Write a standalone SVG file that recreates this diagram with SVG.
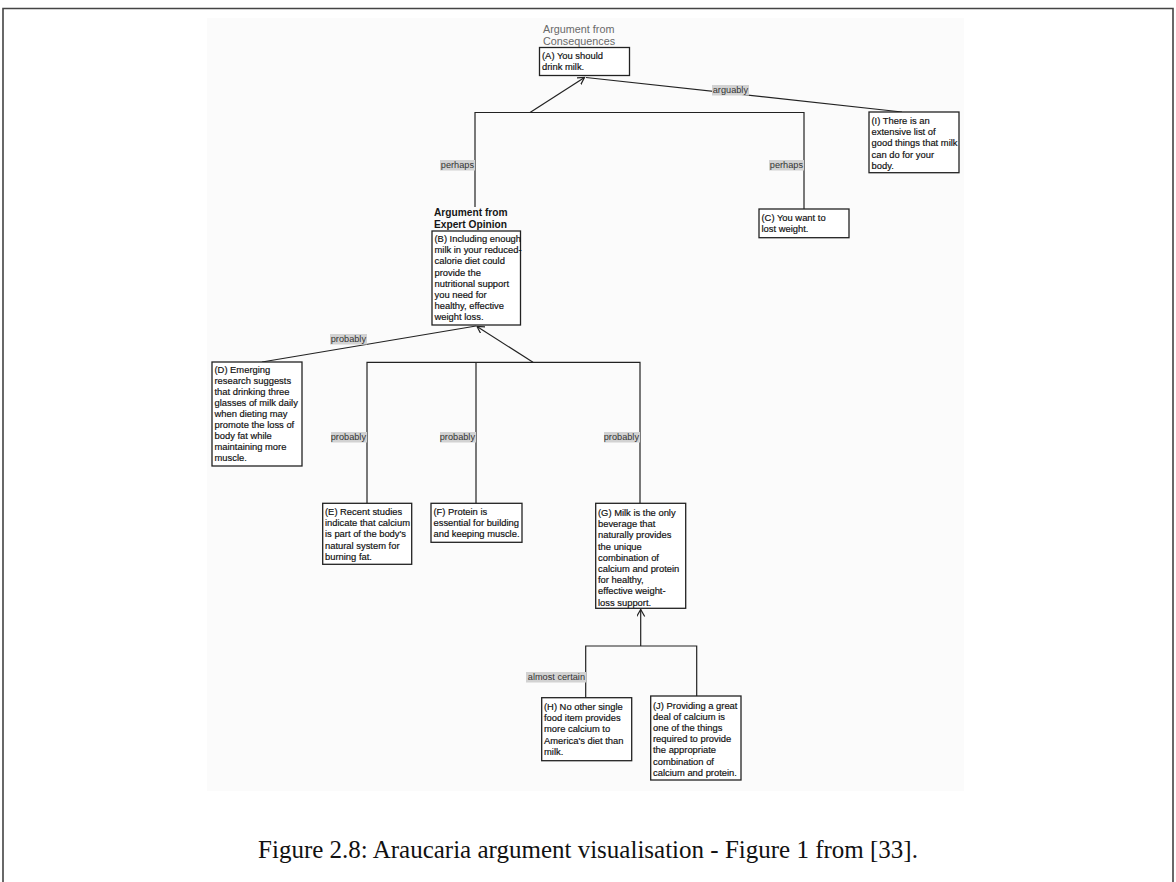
<svg xmlns="http://www.w3.org/2000/svg" width="1176" height="882" viewBox="0 0 1176 882">
  <style>
    .box { fill: #ffffff; stroke: #222; stroke-width: 1.3; }
    .t { font-family: "Liberation Sans", Arial, sans-serif; font-size: 9.4px; fill: #111; stroke: #111; stroke-width: 0.18; }
    .scheme { font-family: "Liberation Sans", Arial, sans-serif; font-size: 10.8px; fill: #6a6a6a; }
    .schemeB { font-family: "Liberation Sans", Arial, sans-serif; font-size: 10.2px; font-weight: bold; fill: #151515; }
    .lbl { font-family: "Liberation Sans", Arial, sans-serif; font-size: 9.2px; fill: #333; text-anchor: end; }
    .hl { fill: #d2d2d2; }
    .edge { fill: none; stroke: #222; stroke-width: 1.2; }
    .cap { font-family: "Liberation Serif", "Times New Roman", serif; font-size: 25px; fill: #111; }
  </style>
  <defs>
    <marker id="open" markerUnits="userSpaceOnUse" markerWidth="10" markerHeight="10" refX="7" refY="4" orient="auto">
      <path d="M0,0 L7,4 L0,8" fill="none" stroke="#222" stroke-width="1.2"/>
    </marker>
  </defs>

  <!-- page frame -->
  <path d="M3,882 V8.5 H1173 V882" fill="none" stroke="#444" stroke-width="1.6"/>
  <!-- scanned figure background -->
  <rect x="207" y="18" width="757" height="773" fill="#fbfbfb"/>

  <!-- connectors -->
  <g id="connectors">
    <!-- A <- (B, C) -->
    <path class="edge" d="M475,207 V112.5 H804 V209"/>
    <path class="edge" d="M530,112.5 L584.5,77.5" marker-end="url(#open)"/>
    <!-- A <- I -->
    <path class="edge" d="M902,112 L586,77.5"/>
    <!-- B <- D -->
    <path class="edge" d="M262,362 L476,326"/>
    <!-- B <- (E, F, G) -->
    <path class="edge" d="M367,503.3 V362.3 H640 V503.3 M476,362.3 V503.3"/>
    <path class="edge" d="M533,362.3 L477,326.5" marker-end="url(#open)"/>
    <!-- G <- (H, J) -->
    <path class="edge" d="M585.7,697.7 V646 H696.7 V696"/>
    <path class="edge" d="M640.7,646 V609.5" marker-end="url(#open)"/>

    <!-- edge labels -->
    <g id="lbl-arguably"><rect class="hl" x="712" y="85" width="37" height="10.5"/><text class="lbl" x="748" y="93.2">arguably</text></g>
    <g id="lbl-perhaps-b"><rect class="hl" x="440" y="160" width="35" height="10.5"/><text class="lbl" x="474" y="168.2">perhaps</text></g>
    <g id="lbl-perhaps-c"><rect class="hl" x="769" y="160" width="35" height="10.5"/><text class="lbl" x="803" y="168.2">perhaps</text></g>
    <g id="lbl-probably-d"><rect class="hl" x="330" y="334" width="37" height="10.5"/><text class="lbl" x="366" y="342.2">probably</text></g>
    <g id="lbl-probably-e"><rect class="hl" x="331" y="432" width="36" height="10.5"/><text class="lbl" x="366" y="440.2">probably</text></g>
    <g id="lbl-probably-f"><rect class="hl" x="440" y="432" width="36" height="10.5"/><text class="lbl" x="475" y="440.2">probably</text></g>
    <g id="lbl-probably-g"><rect class="hl" x="604" y="432" width="36" height="10.5"/><text class="lbl" x="639" y="440.2">probably</text></g>
    <g id="lbl-almost"><rect class="hl" x="526" y="672" width="60" height="10.5"/><text class="lbl" x="585" y="680.2">almost certain</text></g>
  </g>

  <!-- node A -->
  <g id="node-A">
    <text class="scheme" x="543" y="33">Argument from</text>
    <text class="scheme" x="543" y="44.5">Consequences</text>
    <rect class="box" x="539.5" y="47.5" width="90" height="28"/>
    <text class="t" x="542" y="58.5">(A) You should</text>
    <text class="t" x="542" y="70">drink milk.</text>
  </g>

  <!-- node I -->
  <g id="node-I">
    <rect class="box" x="869" y="112" width="90" height="60.7"/>
    <text class="t" x="871.5" y="124">(I) There is an</text>
    <text class="t" x="871.5" y="135.2">extensive list of</text>
    <text class="t" x="871.5" y="146.4">good things that milk</text>
    <text class="t" x="871.5" y="157.6">can do for your</text>
    <text class="t" x="871.5" y="168.8">body.</text>
  </g>

  <!-- node C -->
  <g id="node-C">
    <rect class="box" x="759" y="209" width="90" height="28.7"/>
    <text class="t" x="761.5" y="220.8">(C) You want to</text>
    <text class="t" x="761.5" y="232">lost weight.</text>
  </g>

  <!-- node B -->
  <g id="node-B">
    <text class="schemeB" x="434" y="216">Argument from</text>
    <text class="schemeB" x="434" y="228">Expert Opinion</text>
    <rect class="box" x="432" y="231" width="88.5" height="94"/>
    <text class="t" x="434.5" y="242">(B) Including enough</text>
    <text class="t" x="434.5" y="253.2">milk in your reduced-</text>
    <text class="t" x="434.5" y="264.4">calorie diet could</text>
    <text class="t" x="434.5" y="275.6">provide the</text>
    <text class="t" x="434.5" y="286.8">nutritional support</text>
    <text class="t" x="434.5" y="298">you need for</text>
    <text class="t" x="434.5" y="309.2">healthy, effective</text>
    <text class="t" x="434.5" y="320.4">weight loss.</text>
  </g>

  <!-- node D -->
  <g id="node-D">
    <rect class="box" x="212" y="362" width="90" height="104"/>
    <text class="t" x="214.5" y="372.5">(D) Emerging</text>
    <text class="t" x="214.5" y="383.5">research suggests</text>
    <text class="t" x="214.5" y="394.5">that drinking three</text>
    <text class="t" x="214.5" y="405.5">glasses of milk daily</text>
    <text class="t" x="214.5" y="416.5">when dieting may</text>
    <text class="t" x="214.5" y="427.5">promote the loss of</text>
    <text class="t" x="214.5" y="438.5">body fat while</text>
    <text class="t" x="214.5" y="449.5">maintaining more</text>
    <text class="t" x="214.5" y="460.5">muscle.</text>
  </g>

  <!-- node E -->
  <g id="node-E">
    <rect class="box" x="322.7" y="503.3" width="89" height="61"/>
    <text class="t" x="325" y="515">(E) Recent studies</text>
    <text class="t" x="325" y="526.2">indicate that calcium</text>
    <text class="t" x="325" y="537.4">is part of the body's</text>
    <text class="t" x="325" y="548.6">natural system for</text>
    <text class="t" x="325" y="559.8">burning fat.</text>
  </g>

  <!-- node F -->
  <g id="node-F">
    <rect class="box" x="431" y="503.3" width="91" height="39"/>
    <text class="t" x="433.5" y="515">(F) Protein is</text>
    <text class="t" x="433.5" y="526.2">essential for building</text>
    <text class="t" x="433.5" y="537.4">and keeping muscle.</text>
  </g>

  <!-- node G -->
  <g id="node-G">
    <rect class="box" x="595.7" y="503.3" width="90" height="105"/>
    <text class="t" x="598" y="516">(G) Milk is the only</text>
    <text class="t" x="598" y="527.2">beverage that</text>
    <text class="t" x="598" y="538.4">naturally provides</text>
    <text class="t" x="598" y="549.6">the unique</text>
    <text class="t" x="598" y="560.8">combination of</text>
    <text class="t" x="598" y="572">calcium and protein</text>
    <text class="t" x="598" y="583.2">for healthy,</text>
    <text class="t" x="598" y="594.4">effective weight-</text>
    <text class="t" x="598" y="605.6">loss support.</text>
  </g>

  <!-- node H -->
  <g id="node-H">
    <rect class="box" x="541.7" y="697.7" width="90" height="63"/>
    <text class="t" x="544" y="710">(H) No other single</text>
    <text class="t" x="544" y="721.2">food item provides</text>
    <text class="t" x="544" y="732.4">more calcium to</text>
    <text class="t" x="544" y="743.6">America's diet than</text>
    <text class="t" x="544" y="754.8">milk.</text>
  </g>

  <!-- node J -->
  <g id="node-J">
    <rect class="box" x="650.7" y="696" width="90.3" height="84"/>
    <text class="t" x="653" y="708.6">(J) Providing a great</text>
    <text class="t" x="653" y="719.8">deal of calcium is</text>
    <text class="t" x="653" y="731">one of the things</text>
    <text class="t" x="653" y="742.2">required to provide</text>
    <text class="t" x="653" y="753.4">the appropriate</text>
    <text class="t" x="653" y="764.6">combination of</text>
    <text class="t" x="653" y="775.8">calcium and protein.</text>
  </g>

  <!-- caption -->
  <text class="cap" x="588" y="858" text-anchor="middle">Figure 2.8: Araucaria argument visualisation - Figure 1 from [33].</text>
</svg>
